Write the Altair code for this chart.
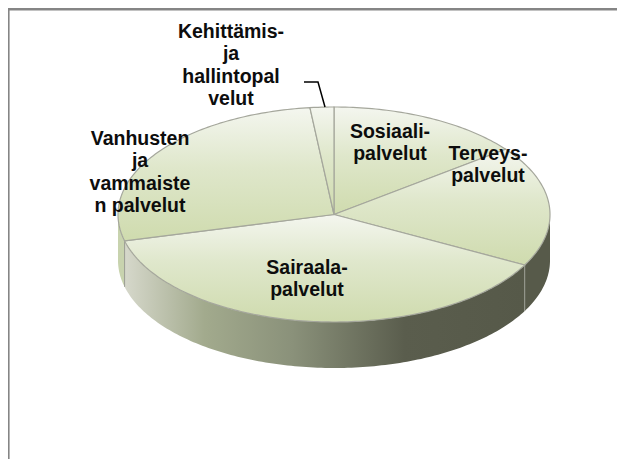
import math
import altair as alt
import pandas as pd

# Slice sizes, in degrees round the (flattened) pie, clockwise from the top
categories = ["Sosiaalipalvelut", "Terveyspalvelut", "Sairaalapalvelut",
              "Vanhusten ja vammaisten palvelut", "Kehittämis- ja hallintopalvelut"]
shares = [52.6, 65.4, 137.8, 97.8, 6.4]
label_texts = ["Sosiaali-\npalvelut", "Terveys-\npalvelut", "Sairaala-\npalvelut",
               "Vanhusten\nja\nvammaiste\nn palvelut", "Kehittämis-\nja\nhallintopal\nvelut"]

# Layout, in page pixels
CX, CY, RX, RY, DEPTH = 334.0, 214.5, 216.0, 107.5, 46.0
LABEL_X = [390, 488, 307, 140, 231]
LABEL_Y = [132, 154, 268, 139, 32]
W, H = 609, 451
xs = alt.Scale(domain=[8, 8 + W], range=[0, W], nice=False, zero=False)
ys = alt.Scale(domain=[8, 8 + H], range=[0, H], nice=False, zero=False)
X = lambda f: alt.X(f, type="quantitative", scale=xs, axis=None)
Y = lambda f: alt.Y(f, type="quantitative", scale=ys, axis=None)
PROJ = dict(type="identity", scale=1, translate=[-8, -8])


def pt(deg):
    a = math.radians(deg)
    return CX + RX * math.sin(a), CY - RY * math.cos(a)


edges = [0.0]
for s in shares:
    edges.append(edges[-1] + s)


def feature(name, ring):
    return {"type": "Feature", "properties": {"name": name},
            "geometry": {"type": "Polygon", "coordinates": [ring]}}


def arc(a0, a1):
    n = max(2, int(a1 - a0))
    return [list(pt(a0 + (a1 - a0) * i / n)) for i in range(n + 1)]


# top face slices as shapes
features = []
for cat, a0, a1 in zip(categories, edges[:-1], edges[1:]):
    ring = [[CX, CY]] + arc(a0, a1) + [[CX, CY]]
    features.append(feature(cat, ring))

top = alt.Chart(alt.Data(values=features)).mark_geoshape(
    fill=alt.Gradient(gradient="linear", x1=0, y1=0, x2=0, y2=1,
                      stops=[alt.GradientStop(color="#f4f6ef", offset=0),
                             alt.GradientStop(color="#dfe7cb", offset=0.45),
                             alt.GradientStop(color="#cfdbae", offset=1)]),
    stroke="#a5a79c", strokeWidth=1.2,
).project(**PROJ)


def wall_shape(name, a0, a1, fill):
    upper = arc(a0, a1)
    lower = [[x, y + DEPTH] for x, y in reversed(upper)]
    ring = upper + lower + [upper[0]]
    return alt.Chart(alt.Data(values=[feature(name, ring)])).mark_geoshape(
        fill=fill, stroke=None, strokeWidth=0).project(**PROJ)


a_t = edges[2]   # Terveys / Sairaala
a_s = edges[3]   # Sairaala / Vanhusten

wall_r = wall_shape(categories[1], 90, a_t, "#575a4a")
wall_m = wall_shape(
    categories[2], a_t, a_s,
    alt.Gradient(gradient="linear", x1=1, y1=0, x2=0, y2=0,
                 stops=[alt.GradientStop(color="#565949", offset=0),
                        alt.GradientStop(color="#5a5d4d", offset=0.30),
                        alt.GradientStop(color="#8a917a", offset=0.58),
                        alt.GradientStop(color="#a2aa8d", offset=0.80),
                        alt.GradientStop(color="#d6d8cb", offset=1)]),
)
wall_l = wall_shape(categories[3], a_s, 270, "#c8d3ae")

sx0, sy0 = pt(a_t)
sx1, sy1 = pt(a_s)
seams = pd.DataFrame({"x": [sx0, sx1], "y": [sy0, sy1], "y2": [sy0 + DEPTH, sy1 + DEPTH]})
seam = alt.Chart(seams).mark_rule(color="#9a9c92", strokeWidth=1).encode(
    x=X("x"), y=Y("y"), y2=alt.Y2("y2"))

frame_top = alt.Chart(pd.DataFrame({"x": [8], "x2": [8 + W], "y": [9.2]})).mark_rule(
    color="#858585", strokeWidth=2.4).encode(x=X("x"), x2=alt.X2("x2"), y=Y("y"))
frame_left = alt.Chart(pd.DataFrame({"x": [8.6], "y": [8], "y2": [8 + H]})).mark_rule(
    color="#858585", strokeWidth=2).encode(x=X("x"), y=Y("y"), y2=alt.Y2("y2"))

leader = alt.Chart(pd.DataFrame({"x": [304, 318, 325], "y": [82, 82, 107]})).mark_line(
    color="#000000", strokeWidth=1.5).encode(x=X("x"), y=Y("y"), order=alt.Order("x:Q"))

labels = alt.Chart(pd.DataFrame({"t": label_texts, "x": LABEL_X, "y": LABEL_Y})).mark_text(
    font="Liberation Sans", fontWeight="bold", fontSize=19.5, color="#0d0d0d",
    lineBreak="\n", lineHeight=22.4, align="center", baseline="middle",
).encode(x=X("x"), y=Y("y"), text="t:N")

chart = alt.layer(frame_top, frame_left, wall_r, wall_m, wall_l, seam, top, leader, labels).properties(
    width=W, height=H, padding=0, autosize=alt.AutoSizeParams(type="none"),
    background="#ffffff",
).configure_view(stroke=None)

chart.save("out.html", embed_options={"renderer": "svg", "actions": False})
